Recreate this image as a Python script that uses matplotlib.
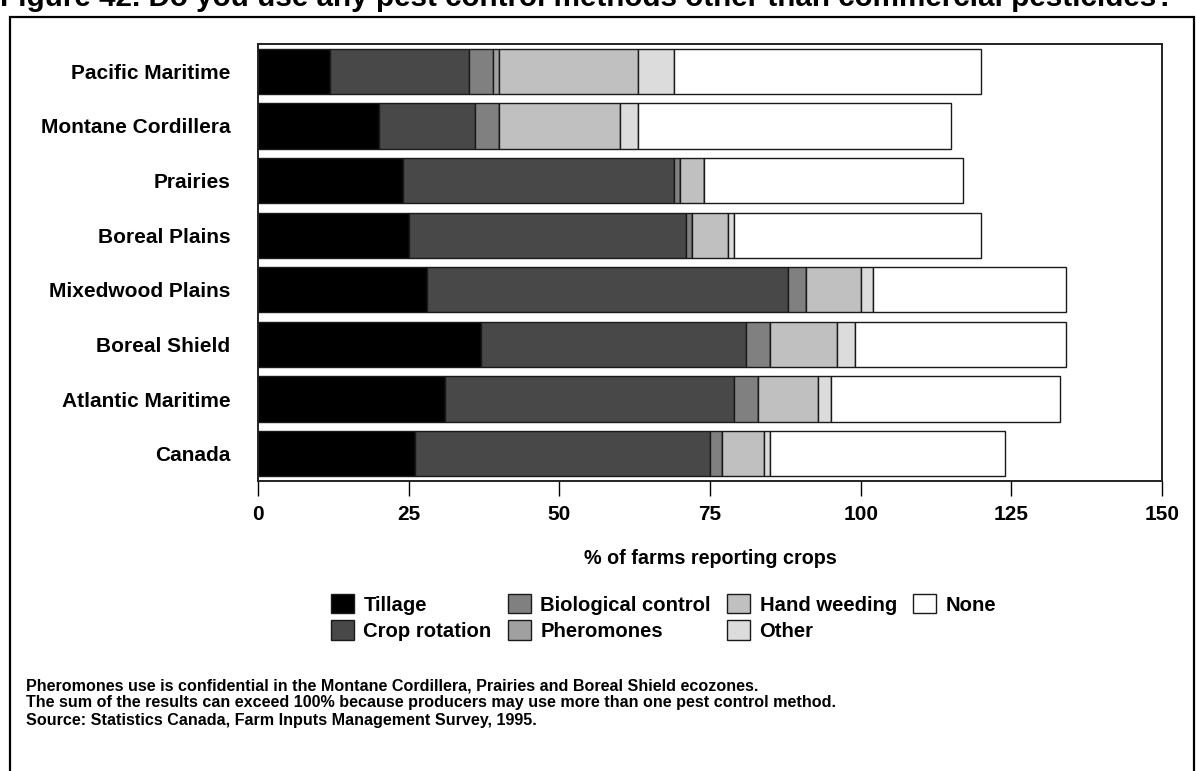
import matplotlib
matplotlib.use("Agg")
import matplotlib.pyplot as plt
from matplotlib.patches import Rectangle
import numpy as np

plt.rcParams["font.family"] = ["Liberation Sans", "DejaVu Sans"]
plt.rcParams["font.weight"] = "bold"

# ecozones, top to bottom
regions = ["Pacific Maritime", "Montane Cordillera", "Prairies", "Boreal Plains",
           "Mixedwood Plains", "Boreal Shield", "Atlantic Maritime", "Canada"]

# % of farms reporting crops, per method
tillage    = [12, 20, 24, 25, 28, 37, 31, 26]
crop_rot   = [23, 16, 45, 46, 60, 44, 48, 49]
bio_ctrl   = [4, 4, 1, 1, 3, 4, 4, 2]
pheromones = [1, 0, 0, 0, 0, 0, 0, 0]
hand_weed  = [23, 20, 4, 6, 9, 11, 10, 7]
other      = [6, 3, 0, 1, 2, 3, 2, 1]
none       = [51, 52, 43, 41, 32, 35, 38, 39]

series = [
    ("Tillage", tillage, "#000000"),
    ("Crop rotation", crop_rot, "#484848"),
    ("Biological control", bio_ctrl, "#808080"),
    ("Pheromones", pheromones, "#a0a0a0"),
    ("Hand weeding", hand_weed, "#c0c0c0"),
    ("Other", other, "#dcdcdc"),
    ("None", none, "#ffffff"),
]

W, H = 1196, 771
fig = plt.figure(figsize=(W / 100, H / 100), dpi=100)
fig.patch.set_facecolor("white")

# outer frame
fig.patches.append(Rectangle((10 / W, -0.01), (1194 - 10) / W, 1 - 17 / H + 0.01,
                             transform=fig.transFigure, fill=False,
                             edgecolor="black", linewidth=1.6))

ax = fig.add_axes([258 / W, 1 - 481 / H, (1162 - 258) / W, (481 - 44) / H])

y = np.arange(len(regions))
left = np.zeros(len(regions))
handles = {}
for name, vals, color in series:
    vals = np.array(vals, dtype=float)
    b = ax.barh(y, vals, left=left, height=0.83, color=color,
                edgecolor="#1a1a1a", linewidth=1.0, label=name)
    handles[name] = b
    left += vals

ax.set_ylim(len(regions) - 0.5, -0.5)
ax.set_xlim(0, 150)
ax.set_xticks([0, 25, 50, 75, 100, 125, 150])
ax.tick_params(axis="x", direction="out", length=11, width=1.0, pad=6,
               labelsize=15)
ax.set_yticks(y)
ax.set_yticklabels(regions, fontsize=15, fontweight="bold")
ax.tick_params(axis="y", length=0, pad=20)
for s in ax.spines.values():
    s.set_linewidth(1.4)
    s.set_color("#222222")
ax.set_xlabel("% of farms reporting crops", fontsize=14.2, fontweight="bold",
              labelpad=18)

order = ["Tillage", "Crop rotation", "Biological control", "Pheromones",
         "Hand weeding", "Other", "None"]
fig.legend([handles[n] for n in order], order, ncol=4, frameon=False,
           loc="upper left", bbox_to_anchor=(331 / W, 1 - 594 / H),
           bbox_transform=fig.transFigure, borderpad=0, borderaxespad=0,
           handlelength=1.15, handleheight=1.1,
           handletextpad=0.45, labelspacing=0.28, columnspacing=0.8,
           prop={"weight": "bold", "size": 14.6})

notes = [
    "Pheromones use is confidential in the Montane Cordillera, Prairies and Boreal Shield ecozones.",
    "The sum of the results can exceed 100% because producers may use more than one pest control method.",
    "Source: Statistics Canada, Farm Inputs Management Survey, 1995.",
]
for i, t in enumerate(notes):
    fig.text(26 / W, 1 - (686 + i * 17) / H, t, fontsize=11.6,
             fontweight="bold", va="center", ha="left")

fig.text(0 / W, 1 + 2 / H,
         "Figure 42. Do you use any pest control methods other than commercial pesticides?",
         fontsize=21.3, fontweight="bold", va="center", ha="left")

fig.savefig("out.png", dpi=100, facecolor="white")
